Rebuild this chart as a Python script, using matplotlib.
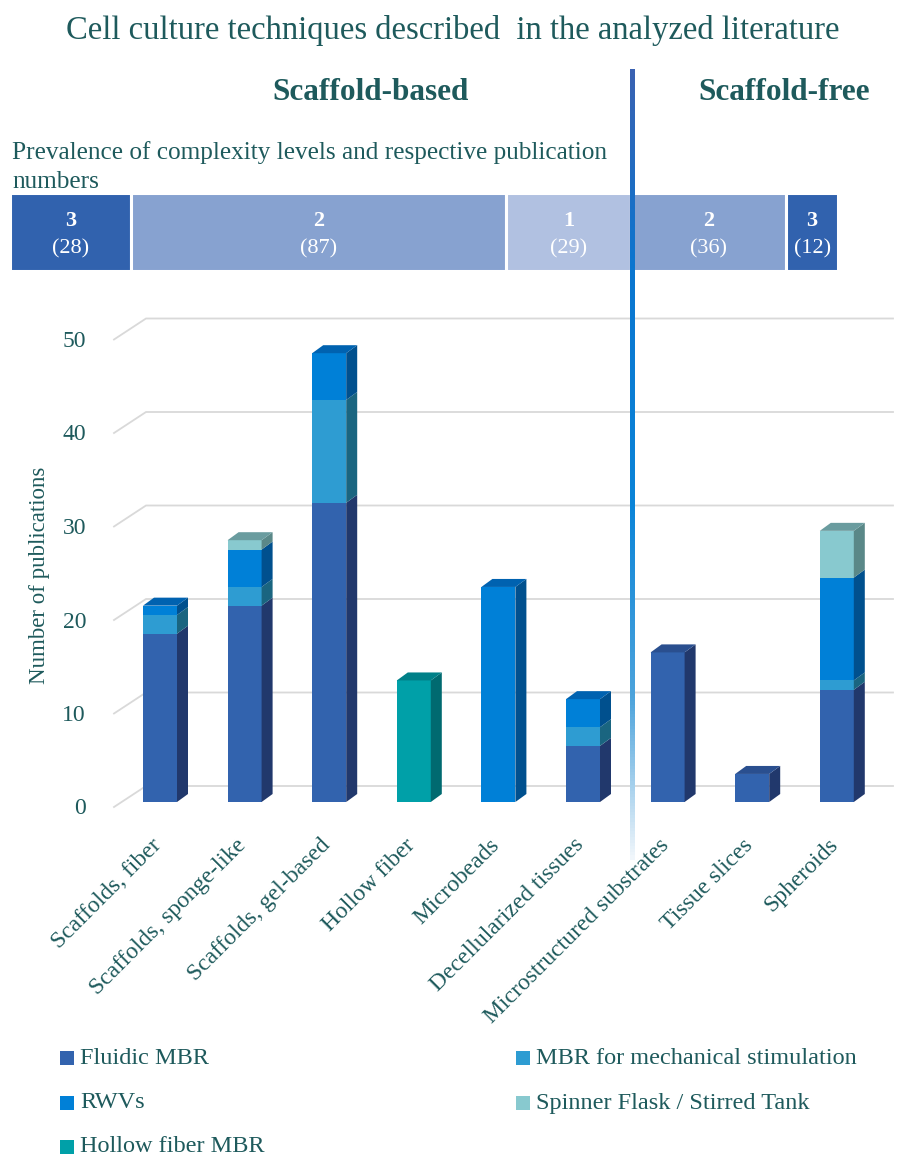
import numpy as np
import matplotlib
matplotlib.use("Agg")
import matplotlib.pyplot as plt
from matplotlib.patches import Polygon, Rectangle
from matplotlib.colors import LinearSegmentedColormap

plt.rcParams['font.family'] = ['Liberation Serif', 'DejaVu Serif']

# ---- data ----
categories = ["Scaffolds, fiber", "Scaffolds, sponge-like", "Scaffolds, gel-based",
              "Hollow fiber", "Microbeads", "Decellularized tissues",
              "Microstructured substrates", "Tissue slices", "Spheroids"]
fluidic = [18, 21, 32, 0, 0, 6, 16, 3, 12]
mech = [2, 2, 11, 0, 0, 2, 0, 0, 1]
rwv = [1, 4, 5, 0, 23, 3, 0, 0, 11]
spinner = [0, 1, 0, 0, 0, 0, 0, 0, 5]
hollow = [0, 0, 0, 13, 0, 0, 0, 0, 0]

series_names = ["Fluidic MBR", "MBR for mechanical stimulation", "RWVs",
                "Spinner Flask / Stirred Tank", "Hollow fiber MBR"]
yticks = [0, 10, 20, 30, 40, 50]

level_labels = ["3", "2", "1", "2", "3"]
level_counts = [28, 87, 29, 36, 12]

# ---- style ----
TXT = "#1e5a5c"
front = {"Fluidic MBR": "#3263ae", "MBR for mechanical stimulation": "#2e9cd2",
         "RWVs": "#0080d7", "Spinner Flask / Stirred Tank": "#88c9cf",
         "Hollow fiber MBR": "#00a0a8"}
side = {"Fluidic MBR": "#21386c", "MBR for mechanical stimulation": "#1a6580",
        "RWVs": "#00508e", "Spinner Flask / Stirred Tank": "#5a8888",
        "Hollow fiber MBR": "#006a70"}
top = {"Fluidic MBR": "#2a4f8f", "MBR for mechanical stimulation": "#237eaa",
       "RWVs": "#0062b0", "Spinner Flask / Stirred Tank": "#6a9c9f",
       "Hollow fiber MBR": "#008088"}
level_colors = {"3": "#3162ae", "2": "#87a2d0", "1": "#b1c1e1"}

W, H = 899, 1160
fig = plt.figure(figsize=(W / 100, H / 100), dpi=100)

# pixel layout of the bar area
X0, DXC = 160.0, 84.6      # first bar centre, spacing (px)
Y0, DYV = 802.0, 9.35      # zero line, px per publication
AX_T, AX_B = 300, 1000
ax = fig.add_axes([0, 1 - AX_B / H, 1, (AX_B - AX_T) / H])
ax.set_xlim((0 - X0) / DXC, (W - X0) / DXC)
ax.set_ylim((Y0 - AX_B) / DYV, (Y0 - AX_T) / DYV)
ax.axis("off")

bw = 34 / DXC
ddx, ddy = 11 / DXC, 8 / DYV

# back-wall gridlines with left diagonal
gx0, gx1, gx2 = (114 - X0) / DXC, (146 - X0) / DXC, (893 - X0) / DXC
goff_front, goff_back = (802 - 807) / DYV, (802 - 786) / DYV
for v in yticks:
    ax.plot([gx0, gx1, gx2], [v + goff_front, v + goff_back, v + goff_back],
            color="#d9d9d9", lw=1.3, zorder=1, solid_joinstyle="miter")
    ax.text((86 - X0) / DXC, v - 7 / DYV, str(v), ha="right", va="center",
            fontsize=17, color=TXT)

stack = [("Fluidic MBR", fluidic), ("MBR for mechanical stimulation", mech),
         ("RWVs", rwv), ("Spinner Flask / Stirred Tank", spinner),
         ("Hollow fiber MBR", hollow)]

x = np.arange(len(categories))
bottom = np.zeros(len(categories))
for name, vals in stack:
    vals = np.array(vals, dtype=float)
    ax.bar(x, vals, bw, bottom=bottom, color=front[name], zorder=3, lw=0)
    for i in range(len(categories)):
        if vals[i] <= 0:
            continue
        b, t = bottom[i], bottom[i] + vals[i]
        r = x[i] + bw / 2
        ax.add_patch(Polygon([(r, b), (r + ddx, b + ddy), (r + ddx, t + ddy), (r, t)],
                             closed=True, fc=side[name], lw=0, zorder=3))
    bottom = bottom + vals

# top faces on the highest segment
tops = bottom
for i in range(len(categories)):
    name = None
    for n, vals in stack:
        if vals[i] > 0:
            name = n
    l, r, t = x[i] - bw / 2, x[i] + bw / 2, tops[i]
    ax.add_patch(Polygon([(l, t), (l + ddx, t + ddy), (r + ddx, t + ddy), (r, t)],
                         closed=True, fc=top[name], lw=0, zorder=3))

for i, c in enumerate(categories):
    ax.text(x[i] - 2 / DXC, (802 - 842) / DYV, c, rotation=45, rotation_mode="anchor",
            ha="right", va="center", fontsize=17, color=TXT)

fig.text(40 / W, 1 - 575 / H, "Number of publications", rotation=90,
         ha="center", va="center", fontsize=16.5, color=TXT)

# ---- headers ----
fig.text(453 / W, 1 - 30 / H, "Cell culture techniques described  in the analyzed literature",
         ha="center", va="center", fontsize=23.5, color=TXT)
fig.text(371 / W, 1 - 93 / H, "Scaffold-based", ha="center", va="center",
         fontsize=22.5, fontweight="bold", color=TXT)
fig.text(784 / W, 1 - 93 / H, "Scaffold-free", ha="center", va="center",
         fontsize=22.5, fontweight="bold", color=TXT)
fig.text(12 / W, 1 - 153 / H, "Prevalence of complexity levels and respective publication",
         ha="left", va="center", fontsize=18.2, color=TXT)
fig.text(12 / W, 1 - 182 / H, "numbers", ha="left", va="center", fontsize=18.2, color=TXT)

# ---- complexity band ----
bx = fig.add_axes([10 / W, 1 - 271 / H, 828 / W, 78 / H])
bx.set_xlim(0, sum(level_counts))
bx.set_ylim(0, 1)
bx.axis("off")
left = 0
for lab, cnt in zip(level_labels, level_counts):
    bx.barh(0.5, cnt, 1.0, left=left, color=level_colors[lab],
            edgecolor="white", lw=2.2)
    cx = left + cnt / 2
    bx.text(cx, 0.64, lab, ha="center", va="center", fontsize=16,
            fontweight="bold", color="white")
    bx.text(cx, 0.28, f"({cnt})", ha="center", va="center", fontsize=16, color="white")
    left += cnt

# ---- divider line with gradient ----
lx = fig.add_axes([629.5 / W, 1 - 860 / H, 5 / W, (860 - 69) / H], zorder=10)
cmap = LinearSegmentedColormap.from_list(
    "div", [(0.0, "#3a62b2"), (0.25, "#0a76d0"), (0.55, "#0a84d8"),
            (0.8, "#4ea4dc"), (1.0, "#f0f6fb")])
lx.imshow(np.linspace(0, 1, 256)[:, None], cmap=cmap, aspect="auto",
          interpolation="bilinear", extent=(0, 1, 1, 0))
lx.axis("off")

# ---- legend ----
leg_pos = [("Fluidic MBR", 60, 1058), ("MBR for mechanical stimulation", 516, 1058),
           ("RWVs", 60, 1103), ("Spinner Flask / Stirred Tank", 516, 1103),
           ("Hollow fiber MBR", 60, 1147)]
for name, lx0, ly in leg_pos:
    fig.add_artist(Rectangle((lx0 / W, 1 - (ly + 7) / H), 14 / W, 14 / H,
                             transform=fig.transFigure, fc=front[name], lw=0))
    fig.text((lx0 + 20) / W, 1 - ly / H, name, ha="left", va="center",
             fontsize=17.5, color=TXT)

fig.savefig("out.png", dpi=100)
